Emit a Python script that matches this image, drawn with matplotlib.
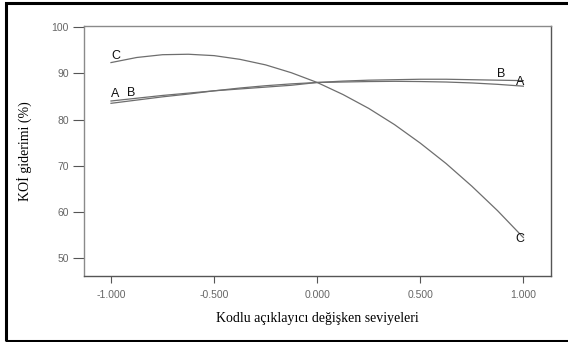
import matplotlib
matplotlib.use("Agg")
import matplotlib.pyplot as plt
from matplotlib.patches import Rectangle

# coded levels of the factors and the predicted removal (%)
x_levels = [-1.0, -0.875, -0.75, -0.625, -0.5, -0.375, -0.25, -0.125, 0.0,
            0.125, 0.25, 0.375, 0.5, 0.625, 0.75, 0.875, 1.0]
curve_a = [84.0, 84.6, 85.2, 85.7, 86.2, 86.6, 87.0, 87.4, 88.0,
           88.1, 88.2, 88.25, 88.2, 88.1, 87.9, 87.6, 87.2]
curve_b = [83.5, 84.2, 84.9, 85.5, 86.2, 86.8, 87.3, 87.7, 88.0,
           88.3, 88.5, 88.6, 88.7, 88.7, 88.6, 88.5, 88.4]
curve_c = [92.3, 93.4, 94.0, 94.1, 93.8, 93.0, 91.8, 90.1, 88.0,
           85.4, 82.4, 78.9, 74.9, 70.5, 65.6, 60.3, 54.5]

x_ticks = [-1.0, -0.5, 0.0, 0.5, 1.0]
x_ticklabels = ["-1.000", "-0.500", "0.000", "0.500", "1.000"]
y_ticks = [50, 60, 70, 80, 90, 100]

fig = plt.figure(figsize=(5.68, 3.42), dpi=100)
ax = fig.add_axes([84 / 568, 1 - 276 / 342, 467 / 568, 250 / 342])

line_col = "#6e6e6e"
for ys in (curve_a, curve_b, curve_c):
    ax.plot(x_levels, ys, color=line_col, lw=0.9)

ax.set_xlim(-1.131, 1.134)
ax.set_ylim(46.2, 100.2)
ax.set_xticks(x_ticks)
ax.set_xticklabels(x_ticklabels)
ax.set_yticks(y_ticks)

for s in ax.spines.values():
    s.set_color("#8a8a8a")
    s.set_linewidth(1.0)
ax.spines["right"].set_color("#555555")
ax.spines["bottom"].set_color("#555555")

ax.tick_params(axis="y", length=8, width=0.8, color="#555555", pad=3,
               labelsize=7.5, labelcolor="#666666")
ax.tick_params(axis="x", length=5, width=0.8, color="#555555", pad=5,
               labelsize=7.5, labelcolor="#666666")
for lab in ax.get_xticklabels() + ax.get_yticklabels():
    lab.set_family("Liberation Sans")

ax.set_xlabel("Kodlu açıklayıcı değişken seviyeleri", family="Liberation Serif",
              fontsize=10, labelpad=9)
ax.set_ylabel("KOİ giderimi (%)", family="Liberation Serif", fontsize=10,
              labelpad=14)

# curve tags
tag = dict(family="Liberation Sans", fontsize=9, color="#111111",
           ha="center", va="bottom")
ax.text(-0.975, curve_c[0] + 0.2, "C", **tag)
ax.text(-0.98, curve_a[0] + 0.3, "A", **tag)
ax.text(-0.9, curve_a[1] - 0.2, "B", **tag)
ax.text(0.89, curve_b[-2] + 0.1, "B", **tag)
ax.text(0.985, curve_a[-1] - 0.4, "A", **tag)
ax.text(0.985, curve_c[-1] - 1.6, "C", **tag)

# outer frame of the figure
fig.patches.append(Rectangle((6 / 568, 1 / 342), 620 / 568, 338 / 342,
                             transform=fig.transFigure, fill=False,
                             edgecolor="black", lw=2.2))

fig.savefig("out.png", dpi=100)
